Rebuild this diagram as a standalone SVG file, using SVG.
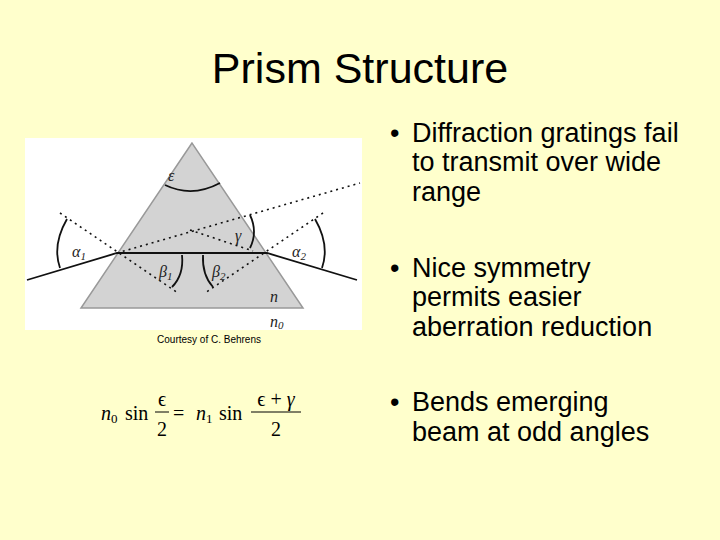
<svg xmlns="http://www.w3.org/2000/svg" width="720" height="540" viewBox="0 0 720 540">
<style>
.t{font-family:"Liberation Sans",Arial,sans-serif;fill:#000}
.b{font-size:27px}
.m{font-family:"Liberation Serif","DejaVu Serif",serif;font-style:italic;font-size:16px;fill:#222}
.s{stroke:#111;fill:none;stroke-width:1.8}
.d{stroke:#111;fill:none;stroke-width:1.6;stroke-dasharray:2 4}
</style>
<rect width="720" height="540" fill="#ffffcc"/>
<text class="t" x="360" y="83" font-size="43" text-anchor="middle">Prism Structure</text>
<g id="image">
<rect x="25" y="138" width="337" height="192" fill="#fff"/>
<polygon points="192,143 81,308 303,308" fill="#d3d3d3" stroke="#999" stroke-width="1.5"/>
<g id="rays">
<polyline class="s" points="27,280 117,253 267,253 357,280"/>
<line class="d" x1="117" y1="253" x2="360" y2="183"/>
<line class="d" x1="60" y1="213" x2="178" y2="293"/>
<line class="d" x1="323" y1="213" x2="205" y2="293"/>
<line class="d" x1="190" y1="230" x2="253" y2="251"/>
<path class="s" d="M165,185 Q192,198 220,183"/>
<path class="s" d="M67,219 Q52,245 60,268"/>
<path class="s" d="M250,215 Q258,232 250,248"/>
<path class="s" d="M315,219 Q330,245 322,268"/>
<path class="s" d="M182,255 Q184,275 172,287"/>
<path class="s" d="M203,255 Q202,275 213,287"/>
</g>
<text class="m" x="168" y="181">ε</text>
<text class="m" x="72" y="257">α<tspan font-size="11" dy="3">1</tspan></text>
<text class="m" x="235" y="241">γ</text>
<text class="m" x="292" y="257">α<tspan font-size="11" dy="3">2</tspan></text>
<text class="m" x="159" y="277">β<tspan font-size="11" dy="3">1</tspan></text>
<text class="m" x="212" y="277">β<tspan font-size="11" dy="3">2</tspan></text>
<text class="m" x="270" y="302">n</text>
<text class="m" x="270" y="327">n<tspan font-size="11" dy="2">0</tspan></text>
</g>
<text class="t" x="209" y="343" font-size="10" text-anchor="middle">Courtesy of C. Behrens</text>
<g id="formula" font-family="Liberation Serif,serif" font-size="20">
<text x="101" y="420" font-style="italic">n<tspan font-size="13" dy="3" font-style="normal">0</tspan></text>
<text x="125" y="420">sin</text>
<text x="162" y="406" font-size="20" text-anchor="middle">ϵ</text>
<line x1="155" y1="412" x2="169" y2="412" stroke="#000" stroke-width="1"/>
<text x="162" y="436" text-anchor="middle">2</text>
<text x="173" y="420">=</text>
<text x="196" y="420" font-style="italic">n<tspan font-size="13" dy="3" font-style="normal">1</tspan></text>
<text x="219" y="420">sin</text>
<text x="276" y="406" font-size="20" text-anchor="middle">ϵ + <tspan font-style="italic">γ</tspan></text>
<line x1="251" y1="412" x2="301" y2="412" stroke="#000" stroke-width="1"/>
<text x="276" y="436" text-anchor="middle">2</text>
</g>
<g id="bullets" class="t b">
<text x="390" y="142">•</text>
<text x="412" y="142">Diffraction gratings fail</text>
<text x="412" y="171">to transmit over wide</text>
<text x="412" y="201">range</text>
<text x="390" y="277">•</text>
<text x="412" y="277">Nice symmetry</text>
<text x="412" y="306">permits easier</text>
<text x="412" y="336">aberration reduction</text>
<text x="390" y="411">•</text>
<text x="412" y="411">Bends emerging</text>
<text x="412" y="441">beam at odd angles</text>
</g>
</svg>
